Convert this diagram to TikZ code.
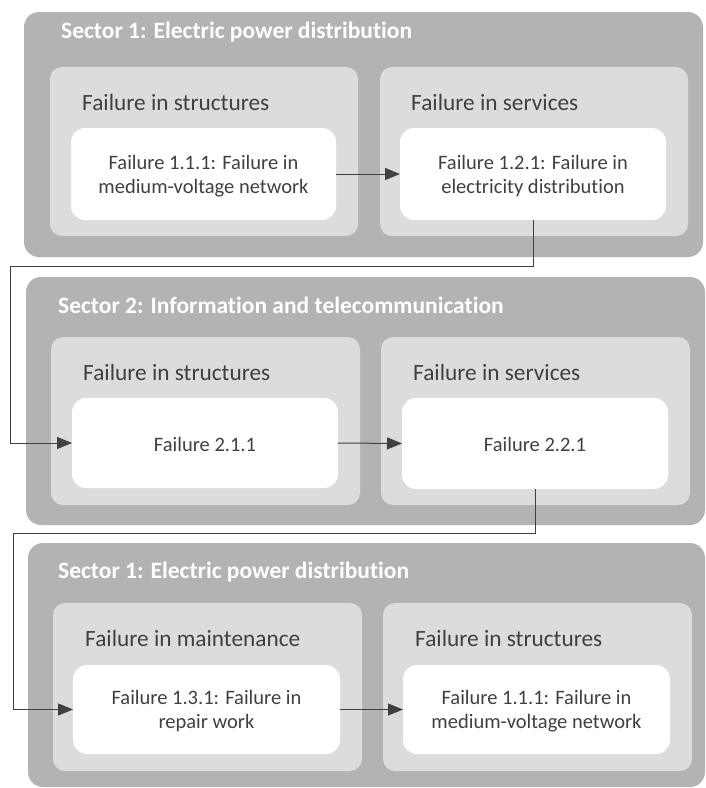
\documentclass[tikz,border=0pt]{standalone}
\usepackage{fontspec}
\setmainfont{Carlito}[Ligatures=NoCommon]
\usetikzlibrary{arrows.meta}
\definecolor{sectorgray}{HTML}{B3B3B3}
\definecolor{groupgray}{HTML}{DCDCDC}
\definecolor{ink}{HTML}{404040}
\tikzset{
  box/.style={anchor=north west, inner sep=0pt, outer sep=0pt, draw=none},
  sectorbox/.style={box, fill=sectorgray, rounded corners=15pt},
  groupbox/.style={box, fill=groupgray, rounded corners=12pt},
  failbox/.style={box, fill=white, rounded corners=14pt, text=ink,
    align=center, font=\fontsize{20.5}{24}\selectfont},
  failtext/.style={failbox, anchor=center, fill=none, yshift=-2pt},
  sectortitle/.style={anchor=west, inner sep=0pt, text=white,
    font=\fontsize{23.5}{28}\selectfont\bfseries},
  grouptitle/.style={anchor=west, inner sep=0pt, text=ink,
    font=\fontsize{23.3}{28}\selectfont},
  conn/.style={draw=ink, line width=1pt,
    -{Triangle[length=15pt, width=12pt]}}
}
\begin{document}
\begin{tikzpicture}[x=1pt, y=-1pt]
\useasboundingbox (0,0) rectangle (705,788);

% ---------- Sector 1 (top) ----------
\node[sectorbox, minimum width=679pt, minimum height=245pt] (s1) at (24,12) {};
\node[sectortitle] (t1) at (61,32) {Sector 1: Electric power distribution};
\node[groupbox, minimum width=308pt, minimum height=169pt] (g1a) at (50,67) {};
\node[groupbox, minimum width=308pt, minimum height=169pt] (g1b) at (380,67) {};
\node[grouptitle] (h1a) at (82,102) {Failure in structures};
\node[grouptitle] (h1b) at (411,102) {Failure in services};
\node[failbox, minimum width=265pt, minimum height=92pt] (f1a) at (71,128) {};
\node[failbox, minimum width=266pt, minimum height=92pt] (f1b) at (400,128) {};
\node[failtext] (l1a) at (f1a.center) {Failure 1.1.1: Failure in\\medium-voltage network};
\node[failtext] (l1b) at (f1b.center) {Failure 1.2.1: Failure in\\electricity distribution};

% ---------- Sector 2 (middle) ----------
\node[sectorbox, minimum width=679pt, minimum height=248pt] (s2) at (26,277) {};
\node[sectortitle] (t2) at (58,305) {Sector 2: Information and telecommunication};
\node[groupbox, minimum width=309pt, minimum height=168pt] (g2a) at (51,337) {};
\node[groupbox, minimum width=309pt, minimum height=168pt] (g2b) at (381,337) {};
\node[grouptitle] (h2a) at (83,372) {Failure in structures};
\node[grouptitle] (h2b) at (413,372) {Failure in services};
\node[failbox, minimum width=266pt, minimum height=90pt] (f2a) at (72,398) {};
\node[failbox, minimum width=266pt, minimum height=91pt] (f2b) at (402,398) {};
\node[failtext, yshift=1pt] (l2a) at (f2a.center) {Failure 2.1.1};
\node[failtext, yshift=1pt] (l2b) at (f2b.center) {Failure 2.2.1};

% ---------- Sector 1 (bottom) ----------
\node[sectorbox, minimum width=677pt, minimum height=244pt] (s3) at (28,543) {};
\node[sectortitle] (t3) at (58,572) {Sector 1: Electric power distribution};
\node[groupbox, minimum width=309pt, minimum height=168pt] (g3a) at (53,603) {};
\node[groupbox, minimum width=309pt, minimum height=168pt] (g3b) at (383,603) {};
\node[grouptitle] (h3a) at (85,638) {Failure in maintenance};
\node[grouptitle] (h3b) at (415,638) {Failure in structures};
\node[failbox, minimum width=267pt, minimum height=89pt] (f3a) at (73,665) {};
\node[failbox, minimum width=267pt, minimum height=89pt] (f3b) at (403,665) {};
\node[failtext] (l3a) at (f3a.center) {Failure 1.3.1: Failure in\\repair work};
\node[failtext] (l3b) at (f3b.center) {Failure 1.1.1: Failure in\\medium-voltage network};

% ---------- Connectors ----------
\coordinate (k1) at (10,266);
\coordinate (k2) at (13,533);
\draw[conn] (f1a.east) -- (f1b.west);
\draw[conn] (f1b.south) |- (k1) |- (f2a.west);
\draw[conn] (f2a.east) -- (f2b.west);
\draw[conn] (f2b.south) |- (k2) |- (f3a.west);
\draw[conn] (f3a.east) -- (f3b.west);
\end{tikzpicture}
\end{document}
